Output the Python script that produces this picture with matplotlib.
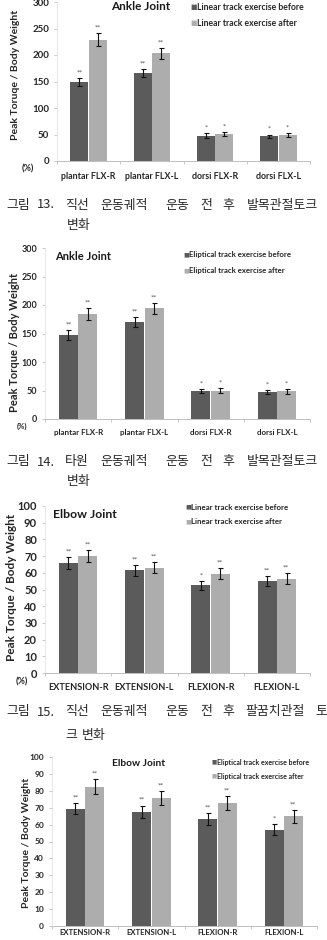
import matplotlib
matplotlib.use("Agg")
import matplotlib.pyplot as plt
import numpy as np

# ---------------- data ----------------
ankle_categories = ["plantar FLX-R", "plantar FLX-L", "dorsi FLX-R", "dorsi FLX-L"]
elbow_categories = ["EXTENSION-R", "EXTENSION-L", "FLEXION-R", "FLEXION-L"]

lin_ankle_before = [149, 166, 48, 47]
lin_ankle_before_err = [8, 8, 4, 3]
lin_ankle_after = [229, 203, 51, 49]
lin_ankle_after_err = [12, 11, 4, 4]
lin_ankle_before_sig = ["**", "**", "*", "*"]
lin_ankle_after_sig = ["**", "**", "*", "*"]

ell_ankle_before = [147, 170, 48.5, 47]
ell_ankle_before_err = [9, 9, 3.5, 3.5]
ell_ankle_after = [184, 194, 50, 48.5]
ell_ankle_after_err = [10, 10, 4, 4]
ell_ankle_before_sig = ["**", "**", "*", "*"]
ell_ankle_after_sig = ["**", "**", "*", "*"]

lin_elbow_before = [66, 61.5, 52.5, 55]
lin_elbow_before_err = [3.5, 3.3, 2.8, 3.0]
lin_elbow_after = [70, 63, 59.5, 56.5]
lin_elbow_after_err = [3.4, 3.4, 3.3, 3.2]
lin_elbow_before_sig = ["**", "**", "*", "**"]
lin_elbow_after_sig = ["**", "**", "**", "**"]

ell_elbow_before = [69.5, 67.5, 63.5, 57]
ell_elbow_before_err = [3.5, 3.8, 3.5, 3.3]
ell_elbow_after = [82.5, 75.8, 72.8, 64.8]
ell_elbow_after_err = [4.2, 4.0, 4.0, 3.6]
ell_elbow_before_sig = ["**", "**", "**", "*"]
ell_elbow_after_sig = ["**", "**", "**", "**"]

titles = ["Ankle Joint", "Ankle Joint", "Elbow Joint", "Elbow Joint"]
legend_before = ["Linear track exercise before", "Eliptical track exercise before",
                 "Linear track exercise before", "Eliptical track exercise before"]
legend_after = ["Linear track exercise after", "Eliptical track exercise after",
                "Linear track exercise after", "Eliptical track exercise after"]
ylabels = ["Peak Toruqe / Body Weight", "Peak Torque / Body Weight",
           "Peak Torque / Body Weight", "Peak Torque / Body Weight"]
y_max = [300, 300, 100, 100]
y_step = [50, 50, 10, 10]

caption_words = [
    (["그림", "13.", "직선", "운동궤적", "운동", "전", "후", "발목관절토크"], ["변화"]),
    (["그림", "14.", "타원", "운동궤적", "운동", "전", "후", "발목관절토크"], ["변화"]),
    (["그림", "15.", "직선", "운동궤적", "운동", "전", "후", "팔꿈치관절", "토"], ["크", "변화"]),
]

# ---------------- layout / style ----------------
W, H = 327, 940
fig = plt.figure(figsize=(W / 100, H / 100), dpi=100)
fig.patch.set_facecolor("white")

FONT = ["Lato", "DejaVu Sans"]
KFONT = ["Noto Sans CJK KR", "DejaVu Sans"]
DARK = "#5b5b5b"
LIGHT = "#adadad"
TXT = "#262626"


def fx(x):
    return x / W


def fy(y):
    return 1 - y / H


panels = [
    dict(box=(57, 310, 2, 161), cats=ankle_categories,
         b=lin_ankle_before, be=lin_ankle_before_err, bs=lin_ankle_before_sig,
         a=lin_ankle_after, ae=lin_ankle_after_err, as_=lin_ankle_after_sig,
         yt=7, xt=6.4, xpad=8.0, tsz=8.5, tpos=(141, 7, "center"),
         lsz=6.2, lpos=(190, 7, 23), ylsz=7.5, ylx=16, yly=0.54, pct=(28, 169, 6.5)),
    dict(box=(45, 310, 248, 419), cats=ankle_categories,
         b=ell_ankle_before, be=ell_ankle_before_err, bs=ell_ankle_before_sig,
         a=ell_ankle_after, ae=ell_ankle_after_err, as_=ell_ankle_after_sig,
         yt=6.5, xt=5.8, xpad=7.5, tsz=8, tpos=(55, 257, "left"),
         lsz=5.6, lpos=(183, 255, 271), ylsz=8, ylx=15, yly=0.45, pct=(22, 426, 5.5)),
    dict(box=(45, 310, 506, 673), cats=elbow_categories,
         b=lin_elbow_before, be=lin_elbow_before_err, bs=lin_elbow_before_sig,
         a=lin_elbow_after, ae=lin_elbow_after_err, as_=lin_elbow_after_sig,
         yt=8, xt=6.6, xpad=7.5, tsz=8.8, tpos=(53, 514, "left"),
         lsz=5.7, lpos=(185, 507, 522), ylsz=8.5, ylx=12, yly=0.51, pct=(22, 682, 6.5)),
    dict(box=(52, 317, 757, 926), cats=elbow_categories,
         b=ell_elbow_before, be=ell_elbow_before_err, bs=ell_elbow_before_sig,
         a=ell_elbow_after, ae=ell_elbow_after_err, as_=ell_elbow_after_sig,
         yt=6, xt=5.6, xpad=2.5, tsz=7.3, tpos=(139, 764, "center"),
         lsz=5.0, lpos=(212, 762, 776), ylsz=7.5, ylx=27, yly=0.49, pct=None),
]

bw = 0.285
for i, p in enumerate(panels):
    l, r, t, b = p["box"]
    ax = fig.add_axes([fx(l), fy(b), (r - l) / W, (b - t) / H])
    x = np.arange(len(p["cats"]))
    ekw = dict(ecolor="#111111", elinewidth=0.8, capsize=1.8, capthick=0.8)
    ax.bar(x - bw / 2 - 0.005, p["b"], bw, yerr=p["be"], color=DARK,
           error_kw=ekw, zorder=2)
    ax.bar(x + bw / 2 + 0.005, p["a"], bw, yerr=p["ae"], color=LIGHT,
           error_kw=ekw, zorder=2)
    for xi, v, e, s in zip(x - bw / 2, p["b"], p["be"], p["bs"]):
        ax.annotate(s, (xi, v + e), xytext=(0, 2.5), textcoords="offset points",
                    ha="center", va="bottom", fontsize=4.5, color="#555555")
    for xi, v, e, s in zip(x + bw / 2, p["a"], p["ae"], p["as_"]):
        ax.annotate(s, (xi, v + e), xytext=(0, 2.5), textcoords="offset points",
                    ha="center", va="bottom", fontsize=4.5, color="#555555")

    ax.set_xlim(-0.5, len(p["cats"]) - 0.5)
    ax.set_ylim(0, y_max[i])
    ax.set_yticks(np.arange(0, y_max[i] + 1, y_step[i]))
    ax.set_xticks(x)
    ax.set_xticklabels(p["cats"], fontsize=p["xt"], family=FONT,
                       fontweight="bold", color=TXT)
    ax.set_xticks(np.arange(-0.5, len(p["cats"])), minor=True)
    ax.tick_params(axis="x", which="major", length=0, pad=p["xpad"])
    ax.tick_params(axis="x", which="minor", length=2.5, color="#bfbfbf", width=0.6)
    ax.tick_params(axis="y", length=2.2, color="#bfbfbf", width=0.6, pad=3.5,
                   labelsize=p["yt"])
    for lab in ax.get_yticklabels():
        lab.set_family(FONT)
        lab.set_fontweight("bold")
        lab.set_color(TXT)
    for sp in ["top", "right"]:
        ax.spines[sp].set_visible(False)
    ax.spines["left"].set_color("#e3e3e3")
    ax.spines["left"].set_linewidth(0.6)
    ax.spines["bottom"].set_color("#bfbfbf")
    ax.spines["bottom"].set_linewidth(0.7)

    # y label
    ax.text((p["ylx"] - l) / (r - l), p["yly"], ylabels[i],
            transform=ax.transAxes, rotation=90, ha="center", va="center",
            fontsize=p["ylsz"], family=FONT, fontweight="bold", color=TXT)

    # title
    tx, ty, tha = p["tpos"]
    fig.text(fx(tx), fy(ty), titles[i], ha=tha, va="center", fontsize=p["tsz"],
             family=FONT, fontweight="bold", color="#1a1a1a")

    # legend
    lx, ly1, ly2 = p["lpos"]
    for yy, col, lab in [(ly1, DARK, legend_before[i]), (ly2, LIGHT, legend_after[i])]:
        fig.text(fx(lx), fy(yy), "■", ha="left", va="center",
                 fontsize=p["lsz"] * 0.8, family="DejaVu Sans", color=col)
        fig.text(fx(lx + p["lsz"] * 1.05), fy(yy), lab, ha="left", va="center",
                 fontsize=p["lsz"], family=FONT, fontweight="bold", color=TXT)

    if p["pct"] is not None:
        px_, py_, ps = p["pct"]
        fig.text(fx(px_), fy(py_), "(%)", ha="center", va="center", fontsize=ps,
                 family=FONT, fontweight="bold", color=TXT)

# ---------------- captions ----------------
cap_line1_x = [6, 37, 65, 100, 165, 200, 222, 247]
cap15_line1_x = [6, 37, 65, 100, 165, 200, 222, 245, 315]
cap_y = [(205, 225), (462, 482), (712, 735)]
cap_line2_x = [[67], [67], [65, 82]]
for k, (w1, w2) in enumerate(caption_words):
    xs1 = cap15_line1_x if k == 2 else cap_line1_x
    for w, xx in zip(w1, xs1):
        fig.text(fx(xx), fy(cap_y[k][0]), w, ha="left", va="center",
                 fontsize=9.3, family=KFONT, color="#2a2a2a")
    for w, xx in zip(w2, cap_line2_x[k]):
        fig.text(fx(xx), fy(cap_y[k][1]), w, ha="left", va="center",
                 fontsize=9.3, family=KFONT, color="#2a2a2a")

fig.savefig("out.png", dpi=100, facecolor="white")
